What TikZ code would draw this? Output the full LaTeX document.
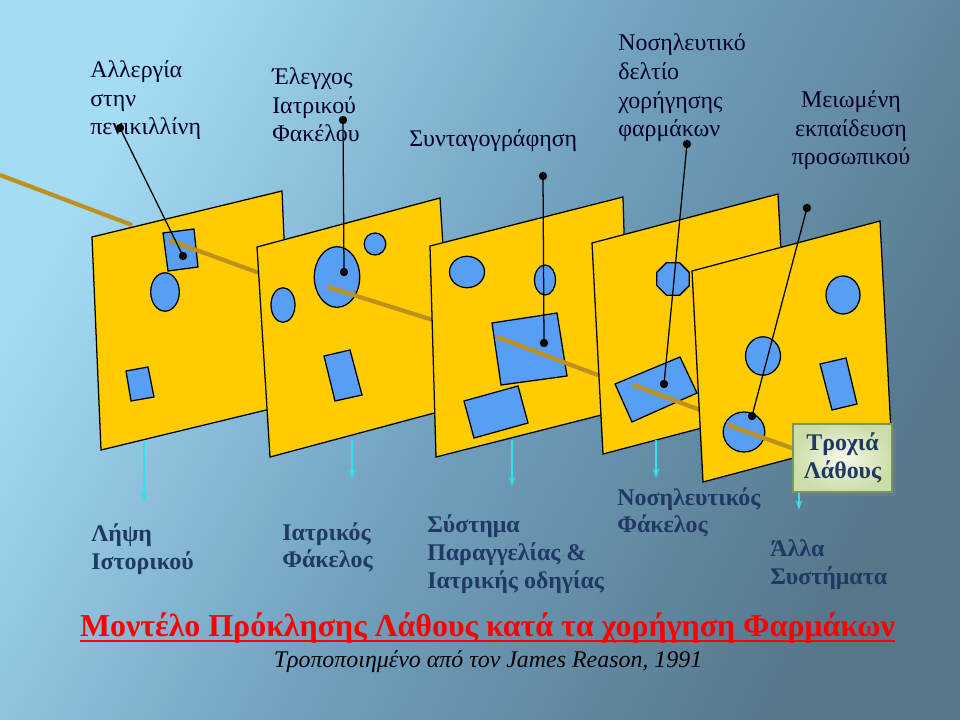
\documentclass[tikz,border=0pt]{standalone}
\usepackage{fontspec}
\setmainfont{Liberation Serif}
\usetikzlibrary{arrows.meta,shadows}

\definecolor{slicey}{RGB}{255,204,0}
\definecolor{holeb}{RGB}{88,158,245}
\definecolor{trail}{RGB}{190,145,30}
\definecolor{navy}{RGB}{31,56,100}
\definecolor{bgl}{RGB}{165,220,245}
\definecolor{bgm}{RGB}{112,160,190}
\definecolor{bgd}{RGB}{86,118,138}
\definecolor{feedc}{RGB}{50,225,240}
\definecolor{boxl}{RGB}{246,249,234}
\definecolor{boxd}{RGB}{204,222,168}
\definecolor{boxe}{RGB}{120,150,95}

\tikzset{
  slice/.style={fill=slicey, draw=black, line width=0.9pt},
  hole/.style={fill=holeb, draw=black, line width=0.9pt},
  trajectory/.style={trail, line width=3pt},
  pointer/.style={line width=0.9pt},
  feed/.style={feedc, line width=1pt, -{Stealth[length=7pt,width=4.5pt]}},
  toplbl/.style={anchor=base west, align=left, inner sep=0, text=black!85!blue,
    font=\fontsize{17}{20.5}\selectfont},
  botlbl/.style={anchor=base west, align=left, inner sep=0, text=navy,
    font=\bfseries\fontsize{17}{19.8}\selectfont},
  errbox/.style={draw=boxe, line width=0.9pt, inner color=boxl, outer color=boxd,
    minimum width=2.475cm, minimum height=1.7cm, align=center, text=navy,
    font=\bfseries\fontsize{17}{20}\selectfont,
    drop shadow={shadow xshift=3pt, shadow yshift=-3pt, opacity=0.45}}
}

\begin{document}
\begin{tikzpicture}[x=0.025cm, y=-0.025cm]
    \def\pin{circle(4.2)}
    % background
    \shade[left color=bgl, right color=bgd, middle color=bgm, shading angle=62]
        (0,0) rectangle (960,720);
    \useasboundingbox (0,0) rectangle (960,720);

    % top labels (base = last line)
    \node[toplbl] (allergy) at (90,135) {Αλλεργία\\στην\\πενικιλλίνη};
    \node[toplbl] (check) at (272,142) {Έλεγχος\\Ιατρικού\\Φακέλου};
    \node[toplbl] (prescr) at (409,147) {Συνταγογράφηση};
    \node[toplbl] (chart) at (618,137) {Νοσηλευτικό\\δελτίο\\χορήγησης\\φαρμάκων};
    \node[toplbl, anchor=base, align=center] (train) at (851,165) {Μειωμένη\\εκπαίδευση\\προσωπικού};

    \draw[trajectory] (0,175) -- (132,225);

    % slice 1
    \filldraw[slice] (92,237) -- (282,191) -- (291,404) -- (101,450) -- cycle;
    \filldraw[hole] (163,233) -- (194,229) -- (198,267) -- (168,271) -- cycle;
    \filldraw[hole] (165,292) ellipse (14.3 and 19.2);
    \filldraw[hole] (126,371) -- (148,367) -- (154,397) -- (131,401) -- cycle;
    \draw[trajectory] (169,240) -- (262,274);

    % slice 2
    \filldraw[slice] (257,247) -- (440,198) -- (453,408) -- (270,457) -- cycle;
    \filldraw[hole] (337,277) ellipse (22.7 and 30.3);
    \filldraw[hole] (375,244) ellipse (10.8 and 11);
    \filldraw[hole] (283,305) ellipse (12 and 17.3);
    \filldraw[hole] (324,356) -- (350,350) -- (362,395) -- (335,401) -- cycle;
    \draw[trajectory] (328,287) -- (436,321);

    % slice 3
    \filldraw[slice] (430,246) -- (623,197) -- (629,408) -- (436,457) -- cycle;
    \filldraw[hole] (467,272) ellipse (17.5 and 15.7);
    \filldraw[hole] (545,280) ellipse (10.5 and 15);
    \filldraw[hole] (492,323) -- (557,313) -- (567,376) -- (501,385) -- cycle;
    \filldraw[hole] (464,401) -- (518,386) -- (528,423) -- (474,438) -- cycle;
    \draw[trajectory] (497,337) -- (603,377);

    % slice 4
    \filldraw[slice] (592,243) -- (778,194) -- (789,405) -- (603,454) -- cycle;
    \filldraw[hole, shift={(673,279)}] (22.5:17.5)
        \foreach \a in {67.5,112.5,...,337.5}{ -- (\a:17.5)} -- cycle;
    \filldraw[hole] (615,384) -- (680,357) -- (697,393) -- (632,422) -- cycle;
    \draw[trajectory] (633,385) -- (703,411);

    % slice 5
    \filldraw[slice] (692,271) -- (880,221) -- (891,432) -- (703,482) -- cycle;
    \filldraw[hole] (843,295) ellipse (17 and 19);
    \filldraw[hole] (763,356) ellipse (17.5 and 19.2);
    \filldraw[hole] (820,364) -- (846,358) -- (857,404) -- (832,410) -- cycle;
    \filldraw[hole] (744,432) ellipse (20.8 and 20);
    \draw[trajectory] (728,425) -- (800,451);

    \node[errbox] (err) at (842.5,458) {Τροχιά\\Λάθους};

    % pointers from the causes to the holes
    \coordinate (p1) at (120,128); \coordinate (q1) at (183,256);
    \coordinate (p2) at (343,120); \coordinate (q2) at (344,272);
    \coordinate (p3) at (543,176); \coordinate (q3) at (544,343);
    \coordinate (p4) at (687,144); \coordinate (q4) at (664,384);
    \coordinate (p5) at (807,208); \coordinate (q5) at (752,416);
    \foreach \i in {1,...,5}{
        \draw[pointer] (p\i) -- (q\i);
        \fill (p\i) \pin (q\i) \pin;
    }

    % bottom labels (base = last line)
    \node[botlbl] (history) at (91,569) {Λήψη\\Ιστορικού};
    \node[botlbl] (record) at (282,568) {Ιατρικός\\Φάκελος};
    \node[botlbl] (order) at (427,588) {Σύστημα\\Παραγγελίας \&\\Ιατρικής οδηγίας};
    \node[botlbl] (nursing) at (617,533) {Νοσηλευτικός\\Φάκελος};
    \node[botlbl] (other) at (770,584) {Άλλα\\Συστήματα};

    \coordinate (s1) at (144,442); \coordinate (e1) at (144,502);
    \coordinate (s2) at (352,440); \coordinate (e2) at (352,479);
    \coordinate (s3) at (512,440); \coordinate (e3) at (512,486);
    \coordinate (s4) at (656,440); \coordinate (e4) at (656,478);
    \coordinate (e5) at (799,510);
    \foreach \i in {1,...,4}
        \draw[feed] (s\i) -- (e\i);
    \draw[feed] (err.south -| e5) -- (e5);

    % title
    \node[anchor=base, inner sep=0, text=red, font=\bfseries\fontsize{22.7}{24}\selectfont]
        (ttl) at (487.5,636) {Μοντέλο Πρόκλησης Λάθους κατά τα χορήγηση Φαρμάκων};
    \draw[red, line width=1.5pt] ([yshift=-3.5pt]ttl.base west) -- ([yshift=-3.5pt]ttl.base east);
    \node[anchor=base, inner sep=0, font=\itshape\fontsize{17}{20}\selectfont]
        (src) at (488,667) {Τροποποιημένο από τον James Reason, 1991};
\end{tikzpicture}
\end{document}
